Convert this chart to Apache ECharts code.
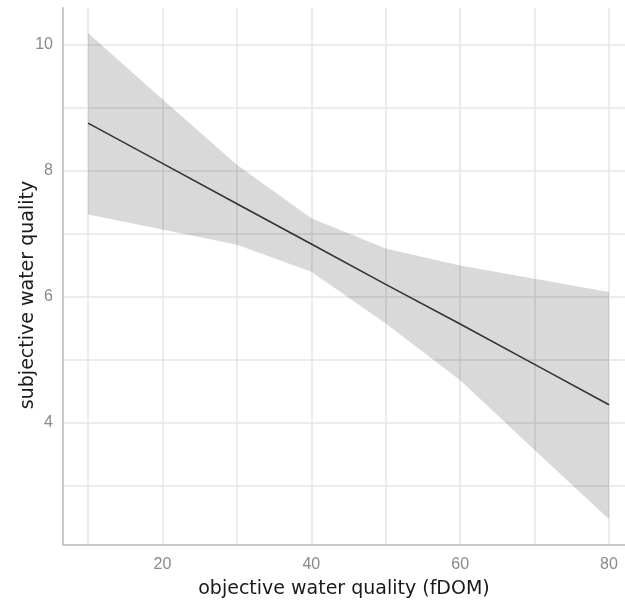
<!DOCTYPE html>
<html>
<head>
<meta charset="utf-8">
<script src="https://cdn.jsdelivr.net/npm/echarts@6/dist/echarts.min.js"></script>
<style>
  html, body { margin: 0; padding: 0; background: #fff; }
  #chart { width: 625px; height: 601px; }
</style>
</head>
<body>
<div id="chart"></div>
<script>
// fDOM values where the fit and its band were read
var xValues = [10, 20, 30, 40, 50, 60, 70, 80];
// fitted line
var fitLine = [8.76, 8.12, 7.48, 6.84, 6.20, 5.57, 4.93, 4.29];
// confidence band (lower / upper)
var bandLower = [7.31, 7.07, 6.83, 6.40, 5.58, 4.68, 3.57, 2.47];
var bandUpper = [10.19, 9.14, 8.10, 7.25, 6.77, 6.50, 6.29, 6.08];
// ticks
var xGridTicks = [10, 20, 30, 40, 50, 60, 70, 80];
var xLabelTicks = [20, 40, 60, 80];
var yGridTicks = [3, 4, 5, 6, 7, 8, 9, 10];
var yLabelTicks = [4, 6, 8, 10];

var gridColor = '#e6e6e6';
var axisColor = '#c9c9c9';
var labelColor = '#8a8a8a';

var chart = echarts.init(document.getElementById('chart'));

// band polygon: upper edge left->right, then lower edge right->left
function renderBand(params, api) {
    if (params.dataIndex !== 0) return;
    var pts = [];
    for (var i = 0; i < xValues.length; i++) {
        pts.push(api.coord([xValues[i], bandUpper[i]]));
    }
    for (var j = xValues.length - 1; j >= 0; j--) {
        pts.push(api.coord([xValues[j], bandLower[j]]));
    }
    return {
        type: 'polygon',
        shape: { points: pts },
        style: { fill: 'rgba(0,0,0,0.15)' }
    };
}

chart.setOption({
    animation: false,
    backgroundColor: '#fff',
    grid: { left: 63, right: 0, top: 8, bottom: 56, outerBoundsMode: 'none' },
    xAxis: {
        type: 'value',
        min: 6.64,
        max: 82.15,
        name: 'objective water quality (fDOM)',
        nameLocation: 'middle',
        nameGap: 35,
        nameTextStyle: { fontFamily: 'DejaVu Sans', fontSize: 19, color: '#1a1a1a' },
        axisLine: { show: true, lineStyle: { color: axisColor, width: 2 } },
        axisTick: { show: false, customValues: xGridTicks },
        axisLabel: {
            customValues: xLabelTicks,
            margin: 12,
            color: labelColor,
            fontFamily: 'Liberation Sans',
            fontSize: 16
        },
        splitLine: { show: true, lineStyle: { color: gridColor, width: 1.5 } }
    },
    yAxis: {
        type: 'value',
        min: 2.063,
        max: 10.587,
        axisLine: { show: true, lineStyle: { color: axisColor, width: 2 } },
        axisTick: { show: false, customValues: yGridTicks },
        axisLabel: {
            customValues: yLabelTicks,
            margin: 10,
            color: labelColor,
            fontFamily: 'Liberation Sans',
            fontSize: 16
        },
        splitLine: { show: true, lineStyle: { color: gridColor, width: 1.5 } }
    },
    graphic: [{
        type: 'text',
        x: 28,
        y: 295,
        rotation: Math.PI / 2,
        style: {
            text: 'subjective water quality',
            font: '19px "DejaVu Sans"',
            fill: '#1a1a1a',
            align: 'center',
            verticalAlign: 'middle'
        }
    }],
    series: [
        {
            name: 'band',
            type: 'custom',
            silent: true,
            renderItem: renderBand,
            data: xValues.map(function (x, i) { return [x, bandLower[i], bandUpper[i]]; }),
            encode: { x: 0, y: [1, 2] },
            z: 1
        },
        {
            name: 'fit',
            type: 'line',
            symbol: 'none',
            lineStyle: { color: '#333', width: 1.6 },
            data: xValues.map(function (x, i) { return [x, fitLine[i]]; }),
            z: 2
        }
    ]
});
</script>
</body>
</html>
